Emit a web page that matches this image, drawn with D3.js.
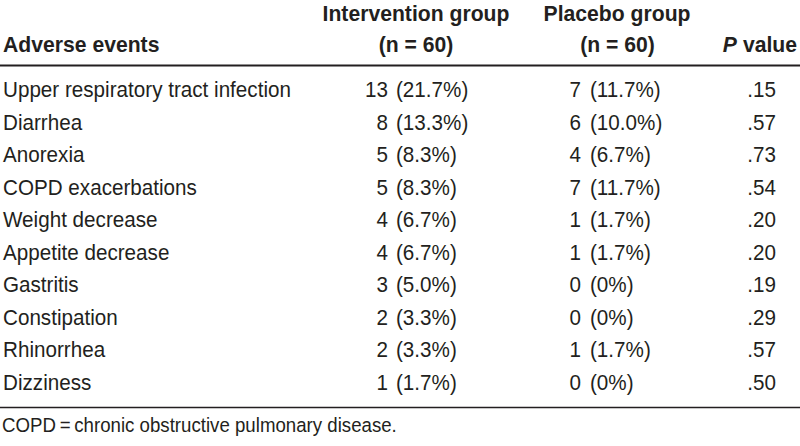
<!DOCTYPE html>
<html><head><meta charset="utf-8">
<script src="https://cdn.jsdelivr.net/npm/d3@7"></script>
<style>
html,body{margin:0;padding:0;background:#fff;}
svg text{font-family:"Liberation Sans",Arial,"Helvetica",sans-serif;fill:#231f20;}
</style></head>
<body><svg id="c" width="800" height="446"></svg>
<script>
const events = ["Upper respiratory tract infection","Diarrhea","Anorexia","COPD exacerbations","Weight decrease","Appetite decrease","Gastritis","Constipation","Rhinorrhea","Dizziness"];
const interventionN = [13,8,5,5,4,4,3,2,2,1];
const interventionPct = ["21.7%","13.3%","8.3%","8.3%","6.7%","6.7%","5.0%","3.3%","3.3%","1.7%"];
const placeboN = [7,6,4,7,1,1,0,0,1,0];
const placeboPct = ["11.7%","10.0%","6.7%","11.7%","1.7%","1.7%","0%","0%","1.7%","0%"];
const pValues = [".15",".57",".73",".54",".20",".20",".19",".29",".57",".50"];
const headerTop = ["Intervention group","Placebo group"];
const headerBottom = ["Adverse events","(n = 60)","(n = 60)","P value"];
const footnote = "COPD\u2009=\u2009chronic obstructive pulmonary disease.";

const svg = d3.select("#c");
const fs = 22, hfs = 22, ffs = 19.5;

function measure(str, size, weight){
  const t = svg.append("text").attr("font-size",size).attr("font-weight",weight||"normal").text(str);
  const w = t.node().getComputedTextLength(); t.remove(); return w;
}
const sxBody = 288 / measure(events[0], fs);
const sxHead = 187 / measure(headerTop[0], hfs, "bold");
const sxFoot = 395 / measure(footnote, ffs);

function txt(parent, x, y, str, opt){
  opt = opt || {};
  return parent.append("text")
    .attr("transform", `translate(${x},${y}) scale(${opt.sx||sxBody},1)`)
    .attr("text-anchor", opt.anchor || "start")
    .attr("font-size", opt.size || fs)
    .attr("font-weight", opt.weight || "normal")
    .text(str);
}

const y = d3.scaleBand().domain(d3.range(events.length)).range([72, 397.6]);
const base = i => y(i) + 25;

// header
const H = {sx:sxHead, size:hfs, weight:"bold"};
txt(svg, 416, 21, headerTop[0], {...H, anchor:"middle"});
txt(svg, 617, 21, headerTop[1], {...H, anchor:"middle"});
txt(svg, 3, 52, headerBottom[0], H);
txt(svg, 416, 52, headerBottom[1], {...H, anchor:"middle"});
txt(svg, 617.5, 52, headerBottom[2], {...H, anchor:"middle"});
const pv = txt(svg, 797, 52, "", {...H, anchor:"end"});
pv.append("tspan").attr("font-style","italic").text(headerBottom[3].split(" ")[0]);
pv.append("tspan").text(" " + headerBottom[3].split(" ")[1]);

// rules
svg.append("line").attr("x1",0).attr("x2",800).attr("y1",65.5).attr("y2",65.5).attr("stroke","#231f20").attr("stroke-width",1.8);
svg.append("line").attr("x1",0).attr("x2",800).attr("y1",407.5).attr("y2",407.5).attr("stroke","#231f20").attr("stroke-width",1.5);

d3.range(events.length).forEach(i => {
  const g = svg.append("g").attr("class","row");
  txt(g, 3, base(i), events[i]);
  txt(g, 388, base(i), String(interventionN[i]), {anchor:"end"});
  txt(g, 396, base(i), "(" + interventionPct[i] + ")");
  txt(g, 581, base(i), String(placeboN[i]), {anchor:"end"});
  txt(g, 590, base(i), "(" + placeboPct[i] + ")");
  txt(g, 776, base(i), pValues[i], {anchor:"end"});
});

txt(svg, 2, 432, footnote, {sx:sxFoot, size:ffs});
</script></body></html>
